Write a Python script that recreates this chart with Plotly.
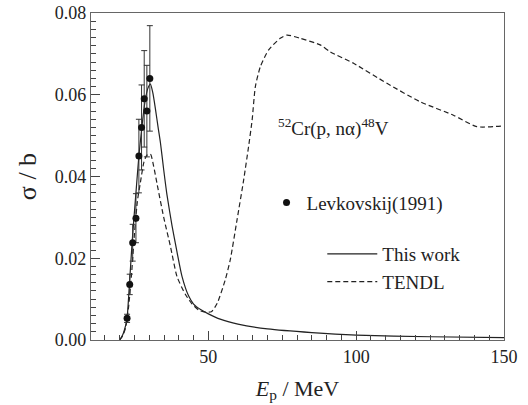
import plotly.graph_objects as go

# Experimental data: Levkovskij (1991)
exp_E = [22.5, 23.4, 24.4, 25.5, 26.5, 27.4, 28.3, 29.2, 30.2]
exp_sigma = [0.0053, 0.0136, 0.0238, 0.0298, 0.0450, 0.0520, 0.0590, 0.0560, 0.0640]
exp_err = [0.0010, 0.0025, 0.0045, 0.0060, 0.0090, 0.0104, 0.0118, 0.0112, 0.0129]

# This work (model calculation)
work_E = [20.0, 21.0, 22.0, 22.5, 23.3, 24.2, 24.9, 25.5, 26.5, 27.5, 28.5, 29.5,
          30.4, 31.2, 32.1, 33.0, 33.8, 34.9, 36.0, 37.7, 39.4, 41.1, 43.3, 45.0,
          47.5, 50.0, 54.0, 60.0, 70.0, 85.0, 100.0, 125.0, 150.0]
work_sigma = [0.0, 0.0012, 0.0035, 0.0053, 0.0136, 0.0238, 0.0305, 0.036, 0.045,
              0.052, 0.058, 0.0615, 0.0626, 0.0605, 0.0565, 0.052, 0.0482, 0.0416,
              0.0355, 0.028, 0.0215, 0.0155, 0.0108, 0.0088, 0.0074, 0.0064, 0.0051,
              0.0039, 0.0027, 0.0018, 0.0012, 0.0008, 0.0006]

# TENDL evaluation
tendl_E = [20.0, 21.0, 22.0, 23.0, 24.0, 25.0, 26.0, 27.0, 28.2, 29.2, 30.4, 31.5,
           32.7, 34.9, 37.2, 39.4, 42.2, 44.5, 47.0, 48.5, 51.0, 53.0, 55.7, 57.4,
           59.7, 61.9, 63.6, 64.8, 65.9, 67.6, 70.4, 74.3, 76.6, 81.1, 87.8, 91.2,
           99.1, 110.4, 121.6, 132.9, 140.8, 150.0]
tendl_sigma = [0.0, 0.001, 0.003, 0.008, 0.016, 0.026, 0.034, 0.0385, 0.0435, 0.0452,
               0.0455, 0.0425, 0.038, 0.030, 0.0228, 0.0155, 0.0112, 0.0088, 0.0072,
               0.0069, 0.0069, 0.009, 0.0147, 0.0196, 0.0294, 0.039, 0.0473, 0.0538,
               0.062, 0.0669, 0.071, 0.0738, 0.0746, 0.0738, 0.0722, 0.0705, 0.0677,
               0.0628, 0.0583, 0.055, 0.0522, 0.0524]

x_ticks = [50, 100, 150]
y_ticks = [0.00, 0.02, 0.04, 0.06, 0.08]
y_ticklabels = ["0.00", "0.02", "0.04", "0.06", "0.08"]

FONT = "Liberation Serif"

fig = go.Figure()
fig.add_trace(go.Scatter(
    x=work_E, y=work_sigma, mode="lines", name="This work",
    line=dict(color="#222222", width=1.2, shape="spline", smoothing=0.6),
    legend="legend2",
))
fig.add_trace(go.Scatter(
    x=tendl_E, y=tendl_sigma, mode="lines", name="TENDL",
    line=dict(color="#222222", width=1.2, dash="5px,3px", shape="spline", smoothing=0.6),
    legend="legend2",
))
fig.add_trace(go.Scatter(
    x=exp_E, y=exp_sigma, mode="markers", name="Levkovskij(1991)",
    marker=dict(color="#111111", size=7, symbol="circle"),
    error_y=dict(type="data", array=exp_err, visible=True, color="#333333",
                 thickness=1, width=3),
    legend="legend",
))

axis_common = dict(
    showline=True, linecolor="#666666", linewidth=1.2, mirror=True,
    ticks="inside", tickcolor="#444444", tickwidth=1, ticklen=9,
    showgrid=False, zeroline=False, automargin=False,
    tickfont=dict(family=FONT, size=18, color="#222222"),
)

fig.update_layout(
    width=528, height=405,
    margin=dict(l=91, r=24, t=13, b=65),
    paper_bgcolor="white", plot_bgcolor="white",
    font=dict(family=FONT, color="#222222"),
    xaxis=dict(
        range=[10.3, 150], tickvals=x_ticks,
        minor=dict(dtick=5, tick0=0, ticks="inside", ticklen=5, tickcolor="#444444"),
        title=dict(text="<i>E</i><sub>p</sub> / MeV", font=dict(family=FONT, size=22), standoff=14),
        **axis_common,
    ),
    yaxis=dict(
        range=[0, 0.08], tickvals=y_ticks, ticktext=y_ticklabels,
        minor=dict(dtick=0.002, tick0=0, ticks="inside", ticklen=5, tickcolor="#444444"),
        title=dict(text="σ / b", font=dict(family=FONT, size=26), standoff=10),
        **axis_common,
    ),
    legend=dict(
        x=0.425, y=0.42, xanchor="left", yanchor="middle",
        bgcolor="rgba(0,0,0,0)", font=dict(family=FONT, size=19),
        itemwidth=30,
    ),
    legend2=dict(
        x=0.56, y=0.22, xanchor="left", yanchor="middle",
        bgcolor="rgba(0,0,0,0)", font=dict(family=FONT, size=19),
        itemwidth=50, tracegroupgap=0,
    ),
    annotations=[dict(
        x=0.588, y=0.65, xref="paper", yref="paper",
        text="<sup>52</sup>Cr(p, nα)<sup>48</sup>V", showarrow=False,
        font=dict(family=FONT, size=19, color="#222222"),
        xanchor="center", yanchor="middle",
    )],
    showlegend=True,
)

fig.write_html("out.html")
